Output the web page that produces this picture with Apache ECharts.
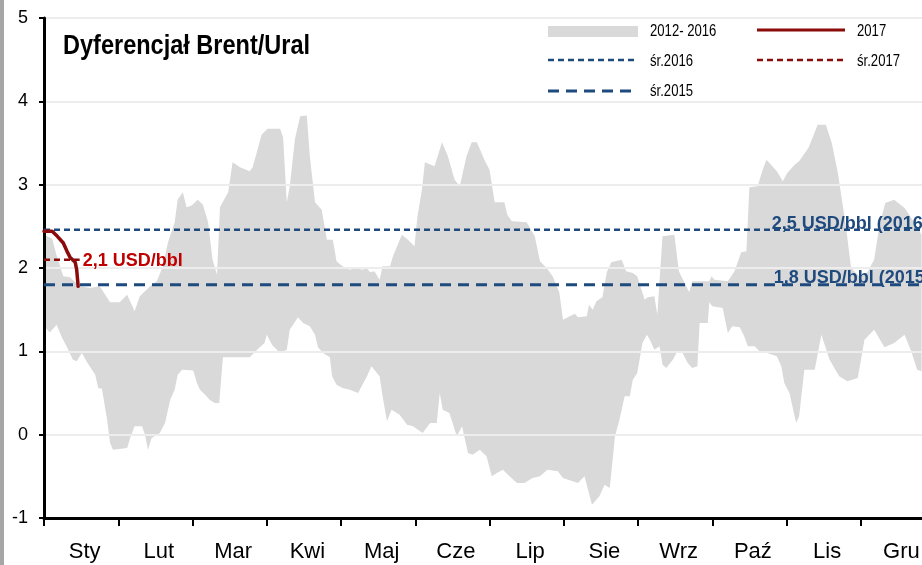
<!DOCTYPE html>
<html>
<head>
<meta charset="utf-8">
<script src="https://cdn.jsdelivr.net/npm/echarts@6/dist/echarts.min.js"></script>
<style>
  html, body { margin: 0; padding: 0; background: #fff; }
  #chart { width: 922px; height: 565px; }
</style>
</head>
<body>
<div id="chart"></div>
<script>
// Month names shown under the axis
const months = ['Sty', 'Lut', 'Mar', 'Kwi', 'Maj', 'Cze', 'Lip', 'Sie', 'Wrz', 'Paź', 'Lis', 'Gru'];
// Value axis ticks (USD/bbl)
const yTicks = [-1, 0, 1, 2, 3, 4, 5];

// 2012-2016 range, upper edge: time in months since 1 Jan, value in USD/bbl
const bandHighT = [0.00, 0.11, 0.17, 0.26, 0.35, 0.48, 0.62, 0.75, 0.89, 1.02, 1.12, 1.22, 1.29, 1.43, 1.52, 1.60, 1.67, 1.76, 1.80, 1.87,
  1.92, 1.99, 2.07, 2.14, 2.21, 2.27, 2.33, 2.37, 2.48, 2.54, 2.64, 2.77, 2.81, 2.87, 2.93, 3.01, 3.18, 3.22, 3.27, 3.31,
  3.38, 3.45, 3.54, 3.58, 3.65, 3.74, 3.81, 3.89, 3.94, 4.02, 4.12, 4.19, 4.29, 4.35, 4.39, 4.45, 4.52, 4.56, 4.66, 4.70,
  4.82, 4.90, 4.99, 5.03, 5.09, 5.13, 5.26, 5.36, 5.44, 5.53, 5.60, 5.69, 5.76, 5.83, 5.94, 6.00, 6.07, 6.20, 6.24, 6.30,
  6.50, 6.61, 6.68, 6.77, 6.85, 6.94, 6.99, 7.08, 7.15, 7.19, 7.31, 7.34, 7.39, 7.44, 7.52, 7.58, 7.64, 7.78, 7.84, 7.93,
  7.99, 8.09, 8.13, 8.22, 8.26, 8.33, 8.49, 8.55, 8.69, 8.73, 8.96, 8.99, 9.03, 9.21, 9.30, 9.39, 9.46, 9.50, 9.61, 9.68,
  9.73, 9.87, 9.95, 10.01, 10.11, 10.17, 10.30, 10.42, 10.53, 10.61, 10.69, 10.80, 10.87, 10.98, 11.09, 11.18, 11.25, 11.33, 11.45, 11.59,
  11.72, 11.82];
const bandHighV = [2.40, 2.35, 2.15, 1.90, 1.89, 1.78, 1.76, 1.78, 1.59, 1.59, 1.68, 1.48, 1.66, 1.78, 1.84, 2.02, 2.31, 2.55, 2.82, 2.91,
  2.73, 2.75, 2.82, 2.76, 2.55, 2.10, 1.92, 2.73, 2.91, 3.27, 3.21, 3.16, 3.21, 3.40, 3.60, 3.67, 3.67, 3.57, 2.79, 2.98,
  3.55, 3.82, 3.83, 3.34, 2.79, 2.70, 2.34, 2.34, 2.08, 2.02, 1.98, 2.00, 1.98, 2.00, 1.95, 1.96, 1.86, 2.02, 2.02, 2.14,
  2.40, 2.34, 2.26, 2.62, 2.94, 3.27, 3.22, 3.51, 3.34, 3.06, 2.98, 3.34, 3.51, 3.51, 3.28, 3.18, 2.79, 2.79, 2.64, 2.56,
  2.55, 2.38, 2.08, 2.00, 1.90, 1.71, 1.38, 1.42, 1.45, 1.41, 1.42, 1.56, 1.50, 1.60, 1.65, 1.95, 2.07, 2.10, 1.96, 1.94,
  1.90, 1.62, 1.65, 1.66, 1.44, 2.38, 2.40, 1.96, 1.71, 1.84, 1.84, 1.90, 1.86, 1.84, 1.96, 2.19, 2.20, 2.97, 2.98, 3.18,
  3.30, 3.16, 3.04, 3.14, 3.24, 3.28, 3.45, 3.72, 3.72, 3.50, 3.15, 2.50, 2.00, 1.90, 1.95, 2.10, 2.50, 2.78, 2.82, 2.72,
  2.55, 2.40];

// 2012-2016 range, lower edge
const bandLowT = [0.00, 0.02, 0.08, 0.17, 0.24, 0.31, 0.39, 0.44, 0.51, 0.58, 0.69, 0.73, 0.78, 0.85, 0.89, 0.93, 1.12, 1.16, 1.22, 1.32,
  1.36, 1.40, 1.45, 1.56, 1.63, 1.70, 1.76, 1.80, 1.86, 2.01, 2.06, 2.10, 2.17, 2.23, 2.30, 2.36, 2.41, 2.77, 2.87, 2.97,
  3.00, 3.07, 3.18, 3.27, 3.31, 3.42, 3.49, 3.58, 3.65, 3.69, 3.76, 3.85, 3.88, 3.94, 4.02, 4.12, 4.23, 4.35, 4.41, 4.52,
  4.56, 4.62, 4.68, 4.79, 4.89, 4.97, 5.10, 5.20, 5.29, 5.33, 5.37, 5.46, 5.56, 5.63, 5.71, 5.77, 5.87, 5.96, 6.03, 6.10,
  6.18, 6.27, 6.37, 6.47, 6.58, 6.68, 6.78, 6.92, 6.99, 7.19, 7.28, 7.38, 7.48, 7.55, 7.62, 7.69, 7.75, 7.82, 7.89, 7.93,
  7.99, 8.06, 8.12, 8.16, 8.22, 8.29, 8.33, 8.38, 8.47, 8.53, 8.60, 8.67, 8.73, 8.80, 8.83, 8.94, 8.96, 9.00, 9.14, 9.21,
  9.27, 9.37, 9.43, 9.48, 9.57, 9.66, 9.74, 9.87, 9.93, 9.97, 10.04, 10.09, 10.13, 10.17, 10.24, 10.38, 10.47, 10.58, 10.71, 10.82,
  10.96, 11.05, 11.18, 11.32, 11.45, 11.59, 11.68, 11.76, 11.82];
const bandLowV = [-1.00, 1.28, 1.23, 1.32, 1.17, 1.05, 0.90, 0.88, 0.98, 0.87, 0.72, 0.56, 0.55, 0.18, -0.10, -0.18, -0.16, -0.04, 0.10, 0.10,
  0.00, -0.18, -0.04, 0.02, 0.14, 0.42, 0.54, 0.72, 0.78, 0.77, 0.62, 0.54, 0.48, 0.42, 0.38, 0.38, 0.93, 0.93, 1.02, 1.10,
  1.20, 1.08, 0.98, 1.02, 1.26, 1.41, 1.34, 1.30, 1.20, 1.05, 0.98, 0.93, 0.70, 0.60, 0.56, 0.54, 0.50, 0.70, 0.82, 0.70,
  0.46, 0.16, 0.30, 0.24, 0.12, 0.10, 0.02, 0.14, 0.14, 0.50, 0.30, 0.26, -0.02, 0.10, -0.22, -0.24, -0.18, -0.26, -0.50, -0.46,
  -0.42, -0.50, -0.58, -0.58, -0.52, -0.50, -0.42, -0.44, -0.52, -0.58, -0.50, -0.84, -0.74, -0.60, -0.64, -0.02, 0.18, 0.46, 0.46, 0.66,
  0.74, 1.10, 1.20, 1.14, 1.02, 1.06, 0.84, 0.80, 0.90, 1.00, 0.98, 0.86, 0.80, 0.82, 1.34, 1.34, 1.59, 1.54, 1.52, 1.22,
  1.30, 1.29, 1.18, 1.06, 1.06, 0.98, 0.98, 0.94, 0.82, 0.62, 0.50, 0.30, 0.14, 0.22, 0.78, 0.78, 1.20, 0.90, 0.70, 0.64,
  0.68, 1.14, 1.26, 1.05, 1.10, 1.20, 1.00, 0.78, 0.76];

// 2017 daily differential
const t2017 = [0.00, 0.11, 0.18, 0.26, 0.31, 0.35, 0.42, 0.44, 0.46];
const v2017 = [2.44, 2.44, 2.38, 2.30, 2.20, 2.13, 2.07, 1.98, 1.78];

// Yearly averages
const avg2016 = 2.46;
const avg2015 = 1.80;
const avg2017 = 2.10;
const avg2017End = 0.48;   // 2017 average drawn over the days so far
const labelT = 9.80;       // where the yearly average captions start

const fmt = v => v.toFixed(1).replace('.', ',');
const pairs = (ts, vs) => ts.map((t, i) => [t, vs[i]]);

const SANS = '"Liberation Sans", Arial, sans-serif';
const BLUE = '#1f4a7e';
const DARK_RED = '#8b0a0a';
const RED = '#c00000';

// Condensed text: regular sans squeezed horizontally
const narrowText = (x, y, text, size, weight, scale) => ({
  type: 'text', x: x, y: y, scaleX: scale, z: 10,
  style: { x: 0, y: 0, text: text, font: weight + ' ' + size + 'px ' + SANS, fill: '#000', verticalAlign: 'middle' }
});

const chart = echarts.init(document.getElementById('chart'), null, { renderer: 'canvas' });

const graphics = [
  { type: 'rect', shape: { x: 0, y: 0, width: 4, height: 565 }, style: { fill: '#a6a6a6' } },
  narrowText(63, 46, 'Dyferencjał Brent/Ural', 28, 'bold', 0.84),
  { type: 'rect', shape: { x: 548, y: 26, width: 90, height: 11 }, style: { fill: '#d9d9d9' } },
  { type: 'line', shape: { x1: 757, y1: 30, x2: 845, y2: 30 }, style: { stroke: DARK_RED, lineWidth: 3 } },
  { type: 'line', shape: { x1: 548, y1: 60, x2: 638, y2: 60 }, style: { stroke: BLUE, lineWidth: 2.5, lineDash: [6, 4] } },
  { type: 'line', shape: { x1: 757, y1: 60, x2: 845, y2: 60 }, style: { stroke: DARK_RED, lineWidth: 2.5, lineDash: [6, 4] } },
  { type: 'line', shape: { x1: 548, y1: 91, x2: 638, y2: 91 }, style: { stroke: BLUE, lineWidth: 3, lineDash: [11, 7] } },
  narrowText(650, 32, '2012- 2016', 16, 'normal', 0.82),
  narrowText(857, 32, '2017', 16, 'normal', 0.82),
  narrowText(650, 62, 'śr.2016', 16, 'normal', 0.82),
  narrowText(857, 62, 'śr.2017', 16, 'normal', 0.82),
  narrowText(650, 92, 'śr.2015', 16, 'normal', 0.82)
];

const option = {
  animation: false,
  backgroundColor: '#fff',
  // the year runs a little past the right edge of the page
  grid: { left: 44, top: 18, bottom: 47, right: -13, containLabel: false, outerBoundsMode: 'none' },
  xAxis: [
    {
      type: 'category', data: months, boundaryGap: true, z: 5,
      axisLine: { onZero: false, lineStyle: { color: '#000', width: 3 } },
      axisTick: { show: true, length: 8, lineStyle: { color: '#000', width: 2 } },
      axisLabel: { color: '#000', fontSize: 22, fontFamily: SANS, margin: 23, padding: [0, 0, 0, 7] },
      splitLine: { show: false }
    },
    { type: 'value', min: 0, max: 12, show: false, axisLine: { onZero: false } }
  ],
  yAxis: {
    type: 'value', min: yTicks[0], max: yTicks[yTicks.length - 1], interval: 1, z: 3,
    axisLine: { show: true, onZero: false, lineStyle: { color: '#000', width: 3 } },
    axisTick: { show: true, length: 5, lineStyle: { color: '#000', width: 2 } },
    axisLabel: { color: '#000', fontSize: 18, fontFamily: SANS, margin: 16, padding: [5, 0, 0, 0] },
    splitLine: { show: true, lineStyle: { color: '#ededed', width: 2 } }
  },
  graphic: graphics,
  series: [
    {
      name: '2012- 2016', type: 'custom', xAxisIndex: 1, yAxisIndex: 0, z: 1, silent: true,
      data: [[0, 0]],
      renderItem: (params, api) => {
        const pts = [];
        bandHighT.forEach((t, i) => pts.push(api.coord([t, bandHighV[i]])));
        for (let i = bandLowT.length - 1; i >= 0; i--) pts.push(api.coord([bandLowT[i], bandLowV[i]]));
        return { type: 'polygon', shape: { points: pts }, style: { fill: '#d9d9d9' } };
      }
    },
    {
      name: 'śr.2016', type: 'line', xAxisIndex: 1, z: 4, symbol: 'none', silent: true,
      data: [[0, avg2016], [12, avg2016]],
      lineStyle: { color: BLUE, width: 2.5, type: [6, 4] }
    },
    {
      name: 'śr.2015', type: 'line', xAxisIndex: 1, z: 4, symbol: 'none', silent: true,
      data: [[0, avg2015], [12, avg2015]],
      lineStyle: { color: BLUE, width: 3, type: [11, 7] }
    },
    {
      name: 'śr.2017', type: 'line', xAxisIndex: 1, z: 4, symbol: 'none', silent: true,
      data: [[0, avg2017], [avg2017End, avg2017]],
      lineStyle: { color: DARK_RED, width: 2.5, type: [6, 4] }
    },
    {
      name: '2017', type: 'line', xAxisIndex: 1, z: 5, symbol: 'none', silent: true,
      data: pairs(t2017, v2017),
      lineStyle: { color: DARK_RED, width: 3.5, cap: 'round', join: 'round' }
    }
  ]
};

chart.setOption(option);

// Captions for the yearly averages, placed at their values on the chart's own scales
const caption = (t, v, text, color, dx, dy) => {
  const p = chart.convertToPixel({ xAxisIndex: 1, yAxisIndex: 0 }, [t, v]);
  return {
    type: 'text', x: p[0] + dx, y: p[1] + dy, z: 10,
    style: { x: 0, y: 0, text: text, font: 'bold 18px ' + SANS, fill: color, verticalAlign: 'middle' }
  };
};
chart.setOption({
  graphic: graphics.concat([
    caption(labelT, avg2016, fmt(avg2016) + ' USD/bbl (2016)', BLUE, 0, -6),
    caption(labelT, avg2015, fmt(avg2015) + ' USD/bbl (2015)', BLUE, 2, -7),
    caption(avg2017End, avg2017, fmt(avg2017) + ' USD/bbl', RED, 3, 1)
  ])
});
</script>
</body>
</html>
